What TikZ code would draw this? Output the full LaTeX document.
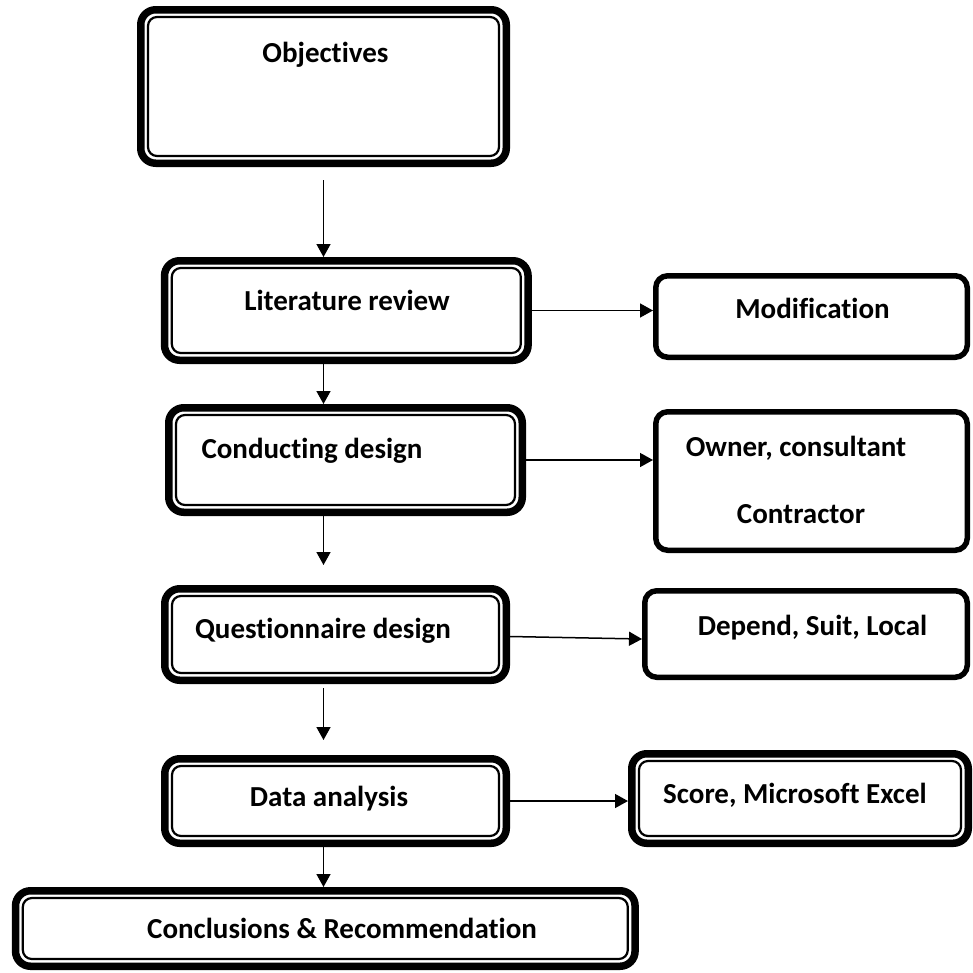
\documentclass[tikz,border=0pt]{standalone}
\usepackage{fontspec}
\setmainfont{Carlito}[Ligatures=NoCommon]
\usetikzlibrary{arrows.meta}

\begin{document}
\begin{tikzpicture}[x=1pt, y=-1pt,
    every node/.style={font=\fontsize{29}{35}\selectfont\bfseries},
    box/.style={draw, line width=5.5pt, rounded corners=12pt, inner sep=0pt},
    dbox/.style={draw, line width=7.5pt, rounded corners=15pt, inner sep=0pt,
        append after command={\pgfextra{
            \draw[line width=2.2pt, rounded corners=9pt]
                ([shift={(11pt,-11pt)}]\tikzlastnode.north west) rectangle
                ([shift={(-11pt,11pt)}]\tikzlastnode.south east);}}},
    txt/.style={anchor=base, inner sep=0pt},
    flow/.style={line width=1.5pt, -{Triangle[length=13pt,width=14pt]}}]

\useasboundingbox (0,0) rectangle (973,972);

% Main column
\node[  dbox,
        minimum width=365.5pt, minimum height=153.5pt
    ] (obj) at (323.5,86.5) {};
\node[  dbox,
        minimum width=363.5pt, minimum height=99.5pt
    ] (litrev) at (346.3,310.5) {};
\node[  dbox,
        minimum width=353.5pt, minimum height=104.5pt
    ] (conddesign) at (345.5,460) {};
\node[  dbox,
        minimum width=341.5pt, minimum height=91.5pt
    ] (quesdesign) at (335.5,634.5) {};
\node[  dbox,
        minimum width=341.5pt, minimum height=84.5pt
    ] (dataanal) at (335.5,801) {};
\node[  dbox,
        minimum width=619.5pt, minimum height=75.5pt
    ] (concl) at (325.3,928.5) {};

% Side boxes
\node[  box,
        minimum width=311.5pt, minimum height=81.5pt
    ] (modif) at (811.5,316.5) {};
\node[  box,
        minimum width=311.5pt, minimum height=138.5pt
    ] (owner) at (811.5,481) {};
\node[  box,
        minimum width=322.5pt, minimum height=86.5pt
    ] (depend) at (806,634) {};
\node[  dbox,
        minimum width=336.5pt, minimum height=89.5pt
    ] (score) at (800,798.5) {};

% Texts
\node[txt] (obj_t) at (325.5,62.7) {Objectives};
\node[txt] (litrev_t) at (347,310) {Literature review};
\node[txt] (conddesign_t) at (312,458) {Conducting design};
\node[txt] (quesdesign_t) at (323,638) {Questionnaire design};
\node[txt] (dataanal_t) at (329,806) {Data analysis};
\node[txt] (concl_t) at (342,938) {Conclusions \& Recommendation};
\node[txt] (modif_t) at (812.5,318.3) {Modification};
\node[txt] (owner_t1) at (796,456.7) {Owner, consultant};
\node[txt] (owner_t2) at (801,523.3) {Contractor};
\node[txt] (depend_t) at (812.5,635) {Depend, Suit, Local};
\node[txt] (score_t) at (795,803.3) {Score, Microsoft Excel};

% Arrows
\draw[flow] ([yshift=-13pt]obj.south) -- (litrev.north -| obj.south);
\draw[flow] (litrev.south -| obj.south) -- (conddesign.north -| obj.south);
\draw[flow] (conddesign.south -| obj.south) -- ([yshift=20pt]quesdesign.north -| obj.south);
\draw[flow] ([yshift=-4pt]quesdesign.south -| obj.south) -- ([yshift=15pt]dataanal.north -| obj.south);
\draw[flow] (dataanal.south -| obj.south) -- (concl.north -| obj.south);
\draw[flow] (litrev.east) -- (litrev.east -| modif.west);
\draw[flow] (conddesign.east) -- (conddesign.east -| owner.west);
\draw[flow] ([yshift=-2pt]quesdesign.east) -- ([yshift=-5pt]depend.west);
\draw[flow] (dataanal.east) -- (dataanal.east -| score.west);
\end{tikzpicture}
\end{document}
